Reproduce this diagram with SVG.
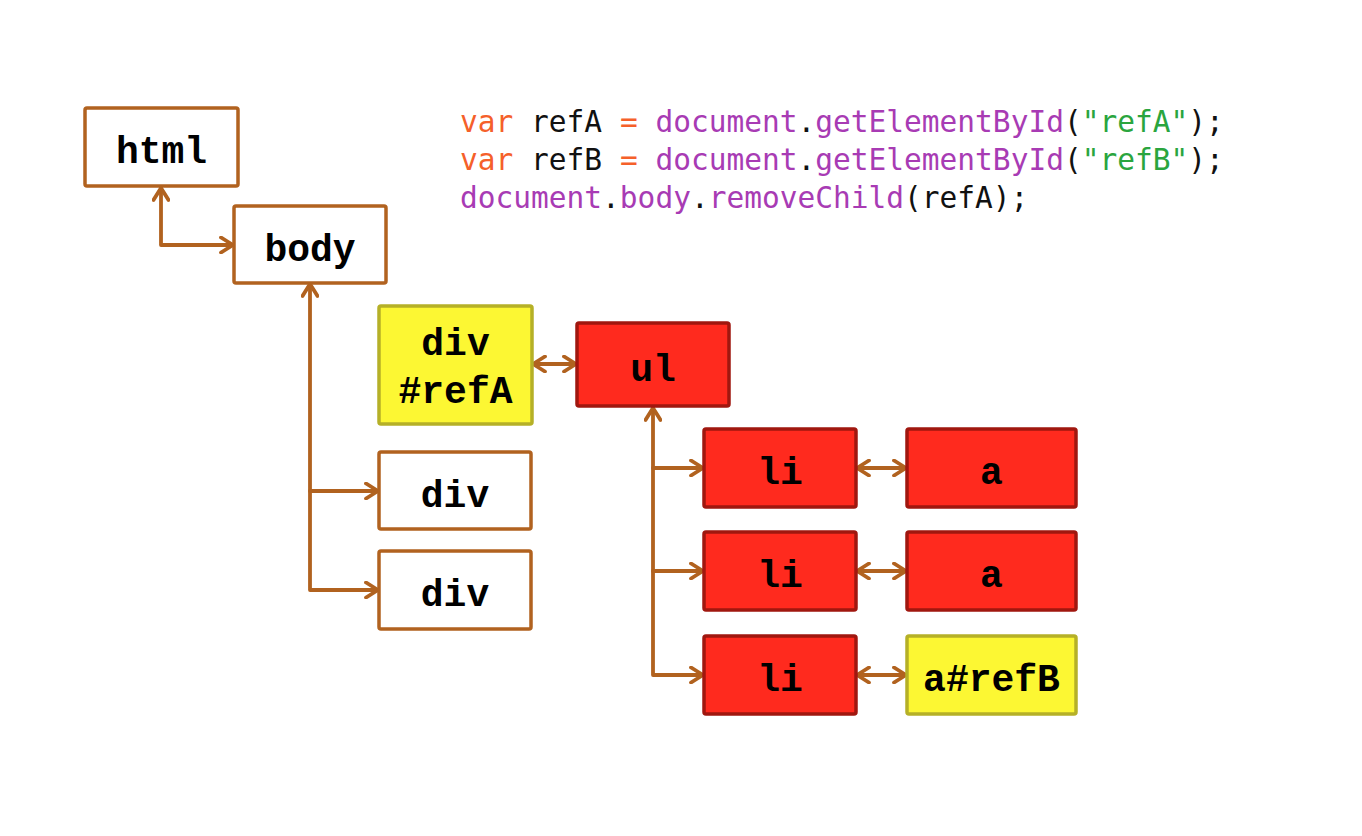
<svg xmlns="http://www.w3.org/2000/svg" width="1362" height="836" viewBox="0 0 1362 836">
  <style>
    .box-plain { fill: #ffffff; stroke: #b1621f; stroke-width: 3.5; }
    .box-red { fill: #ff2a1e; stroke: #a0170f; stroke-width: 3.5; }
    .box-yellow { fill: #fcf733; stroke: #b5b027; stroke-width: 3.5; }
    .label { font-family: "Liberation Mono", "Courier New", monospace; font-weight: bold; font-size: 38px; fill: #000000; text-anchor: middle; }
    .link { fill: none; stroke: #b1621f; stroke-width: 3.8; stroke-linecap: round; stroke-linejoin: round; }
    .code { font-family: "DejaVu Sans Mono", "Liberation Mono", monospace; font-size: 29.5px; fill: #111111; }
    .kw { fill: #f5602a; }
    .fn { fill: #a83bb4; }
    .str { fill: #2aa53e; }
  </style>
  <defs>
    <marker id="chevron" viewBox="0 0 16 18" refX="14" refY="9" markerWidth="16" markerHeight="18" markerUnits="userSpaceOnUse" orient="auto-start-reverse">
      <path d="M2,1.5 L14,9 L2,16.5" fill="none" stroke="#b1621f" stroke-width="3.8" stroke-linecap="round" stroke-linejoin="round"/>
    </marker>
  </defs>

  <rect width="1362" height="836" fill="#ffffff"/>

  <!-- script snippet -->
  <g id="code">
    <text class="code" x="460" y="132"><tspan class="kw">var</tspan> refA <tspan class="kw">=</tspan> <tspan class="fn">document</tspan>.<tspan class="fn">getElementById</tspan>(<tspan class="str">"refA"</tspan>);</text>
    <text class="code" x="460" y="170"><tspan class="kw">var</tspan> refB <tspan class="kw">=</tspan> <tspan class="fn">document</tspan>.<tspan class="fn">getElementById</tspan>(<tspan class="str">"refB"</tspan>);</text>
    <text class="code" x="460" y="208"><tspan class="fn">document</tspan>.<tspan class="fn">body</tspan>.<tspan class="fn">removeChild</tspan>(refA);</text>
  </g>

  <!-- connectors -->
  <g id="connectors">
    <path class="link" d="M161,188 V245 H233" marker-start="url(#chevron)" marker-end="url(#chevron)"/>
    <path class="link" d="M310,284 V590 H378" marker-start="url(#chevron)" marker-end="url(#chevron)"/>
    <path class="link" d="M310,491 H378" marker-end="url(#chevron)"/>
    <path class="link" d="M533,364 H576" marker-start="url(#chevron)" marker-end="url(#chevron)"/>
    <path class="link" d="M653,408 V675 H703" marker-start="url(#chevron)" marker-end="url(#chevron)"/>
    <path class="link" d="M653,468 H703" marker-end="url(#chevron)"/>
    <path class="link" d="M653,571 H703" marker-end="url(#chevron)"/>
    <path class="link" d="M857,468 H906" marker-start="url(#chevron)" marker-end="url(#chevron)"/>
    <path class="link" d="M857,571 H906" marker-start="url(#chevron)" marker-end="url(#chevron)"/>
    <path class="link" d="M857,675 H906" marker-start="url(#chevron)" marker-end="url(#chevron)"/>
  </g>

  <!-- nodes -->
  <g id="node-html">
    <rect class="box-plain" x="85" y="108" width="153" height="78" rx="2"/>
    <text class="label" x="161.5" y="163">html</text>
  </g>
  <g id="node-body">
    <rect class="box-plain" x="234" y="206" width="152" height="77" rx="2"/>
    <text class="label" x="310" y="261">body</text>
  </g>
  <g id="node-div-refA">
    <rect class="box-yellow" x="379" y="306" width="153" height="118" rx="2"/>
    <text class="label" x="455.5" y="355">div</text>
    <text class="label" x="455.5" y="403">#refA</text>
  </g>
  <g id="node-ul">
    <rect class="box-red" x="577" y="323" width="152" height="83" rx="2"/>
    <text class="label" x="653" y="381">ul</text>
  </g>
  <g id="node-div-1">
    <rect class="box-plain" x="379" y="452" width="152" height="77" rx="2"/>
    <text class="label" x="455" y="507">div</text>
  </g>
  <g id="node-div-2">
    <rect class="box-plain" x="379" y="551" width="152" height="78" rx="2"/>
    <text class="label" x="455" y="606">div</text>
  </g>
  <g id="node-li-1">
    <rect class="box-red" x="704" y="429" width="152" height="78" rx="2"/>
    <text class="label" x="780" y="484">li</text>
  </g>
  <g id="node-li-2">
    <rect class="box-red" x="704" y="532" width="152" height="78" rx="2"/>
    <text class="label" x="780" y="587">li</text>
  </g>
  <g id="node-li-3">
    <rect class="box-red" x="704" y="636" width="152" height="78" rx="2"/>
    <text class="label" x="780" y="691">li</text>
  </g>
  <g id="node-a-1">
    <rect class="box-red" x="907" y="429" width="169" height="78" rx="2"/>
    <text class="label" x="991.5" y="484">a</text>
  </g>
  <g id="node-a-2">
    <rect class="box-red" x="907" y="532" width="169" height="78" rx="2"/>
    <text class="label" x="991.5" y="587">a</text>
  </g>
  <g id="node-a-refB">
    <rect class="box-yellow" x="907" y="636" width="169" height="78" rx="2"/>
    <text class="label" x="991.5" y="691">a#refB</text>
  </g>
</svg>
